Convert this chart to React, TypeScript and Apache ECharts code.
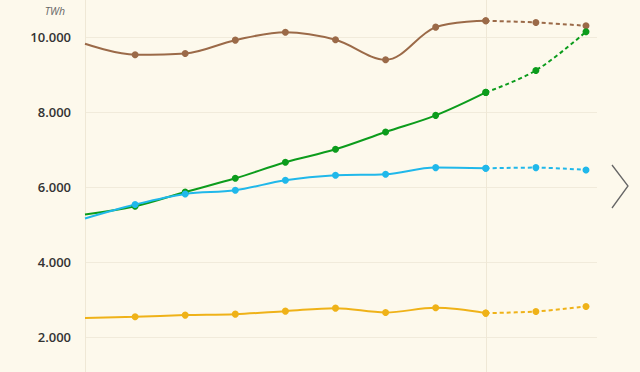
import React, { useEffect, useRef } from "react";
import * as echarts from "echarts";

// x positions (index), 0 = clipped start of the visible window
const xIndex = [0, 1, 2, 3, 4, 5, 6, 7, 8, 9, 10];
const forecastStart = 8;

const brownValues = [9830, 9540, 9573, 9928, 10141, 9938, 9405, 10275, 10445, 10400, 10312];
const greenValues = [5272, 5493, 5875, 6240, 6667, 7013, 7475, 7920, 8533, 9120, 10152];
const cyanValues = [5165, 5538, 5822, 5920, 6187, 6320, 6347, 6525, 6507, 6525, 6462];
const yellowValues = [2507, 2542, 2587, 2613, 2693, 2773, 2658, 2782, 2640, 2685, 2818];

const yTicks = [0, 2000, 4000, 6000, 8000, 10000];

const colors = {
  brown: "#9b6a48",
  green: "#0c9c1c",
  cyan: "#20b8ea",
  yellow: "#efb218",
};

function toPoints(values: number[], from: number, to: number) {
  const pts: any[] = [];
  for (let i = from; i <= to; i++) {
    if (i === 0) pts.push({ value: [xIndex[i], values[i]], symbol: "none" });
    else pts.push([xIndex[i], values[i]]);
  }
  return pts;
}

function makeSeries(name: string, values: number[], color: string) {
  const common = {
    type: "line" as const,
    smooth: 0.35,
    symbol: "circle",
    symbolSize: 7,
    showSymbol: true,
    itemStyle: { color },
    z: 3,
  };
  return [
    {
      ...common,
      name,
      data: toPoints(values, 0, forecastStart),
      lineStyle: { color, width: 2 },
    },
    {
      ...common,
      name: name + " forecast",
      data: toPoints(values, forecastStart, values.length - 1),
      lineStyle: { color, width: 2, type: [4, 3] },
    },
  ];
}

export default function App() {
  const ref = useRef<HTMLDivElement>(null);
  useEffect(() => {
    document.body.style.margin = "0";
    document.body.style.overflow = "hidden";
    document.body.style.background = "#fdf9ec";
    const chart = echarts.init(ref.current!, undefined, { renderer: "svg" });
    chart.setOption({
      animation: false,
      backgroundColor: "#fdf9ec",
      grid: { left: 85, right: 43, top: 0, bottom: 40 },
      xAxis: {
        type: "value",
        min: 0,
        max: 10.22,
        interval: 8,
        axisLine: { show: false },
        axisTick: { show: false },
        axisLabel: { show: false },
        splitLine: {
          show: true,
          showMaxLine: false,
          lineStyle: { color: "#efe8d6", width: 1 },
        },
      },
      yAxis: {
        type: "value",
        min: yTicks[0],
        max: 11000,
        interval: 2000,
        name: "TWh",
        nameLocation: "end",
        nameGap: -16,
        nameTextStyle: {
          color: "#666",
          fontStyle: "italic",
          fontSize: 10.5,
          fontFamily: "Open Sans",
          align: "right",
          padding: [0, 20, 0, 0],
        },
        axisLine: { show: false },
        axisTick: { show: false },
        axisLabel: {
          showMaxLabel: false,
          showMinLabel: false,
          margin: 14,
          color: "#333",
          fontSize: 13,
          fontWeight: 600,
          fontFamily: "Open Sans",
          formatter: (v: number) =>
            v.toLocaleString("de-DE", { minimumFractionDigits: 0 }).replace(/,/g, "."),
        },
        splitLine: {
          show: true,
          showMaxLine: false,
          lineStyle: { color: "#f1ebdb", width: 1 },
        },
      },
      series: [
        ...makeSeries("Brown", brownValues, colors.brown),
        ...makeSeries("Green", greenValues, colors.green),
        ...makeSeries("Cyan", cyanValues, colors.cyan),
        ...makeSeries("Yellow", yellowValues, colors.yellow),
      ],
      graphic: [
        {
          type: "polyline",
          shape: { points: [[612, 165], [628, 186], [612, 208]] },
          style: { stroke: "#666", lineWidth: 1.3, fill: "none" },
        },
      ],
    });
    return () => chart.dispose();
  }, []);
  return (
    <div
      ref={ref}
      style={{ width: 640, height: 452, background: "#fdf9ec" }}
    />
  );
}
